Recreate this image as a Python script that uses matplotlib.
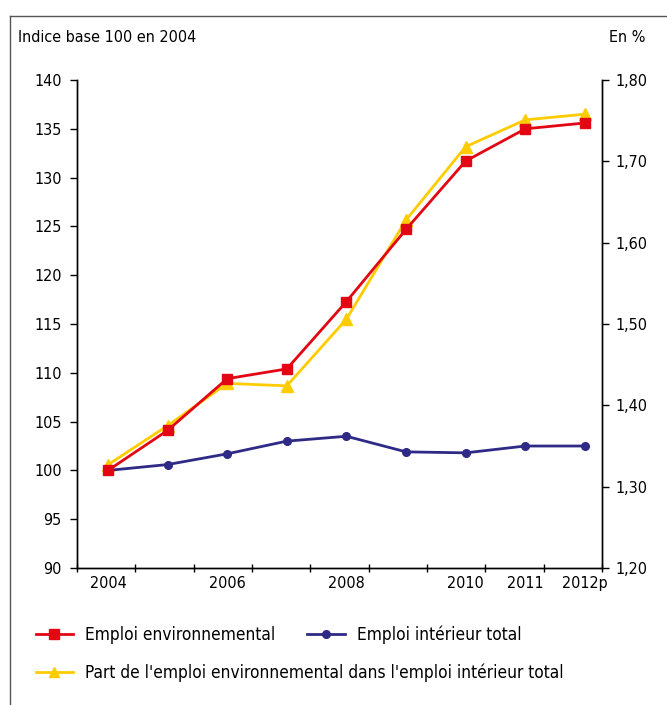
import numpy as np
import matplotlib.pyplot as plt
from matplotlib.lines import Line2D

plt.rcParams['font.family'] = ['DejaVu Sans']
plt.rcParams['font.stretch'] = 'condensed'
plt.rcParams['font.size'] = 11.5

years = ['2004', '2005', '2006', '2007', '2008', '2009', '2010', '2011', '2012p']
shown_labels = ['2004', '', '2006', '', '2008', '', '2010', '2011', '2012p']
emploi_env = [100.0, 104.1, 109.4, 110.4, 117.3, 124.7, 131.7, 135.0, 135.6]
emploi_total = [100.0, 100.6, 101.7, 103.0, 103.5, 101.9, 101.8, 102.5, 102.5]
part_env = [1.327, 1.375, 1.427, 1.424, 1.506, 1.628, 1.718, 1.751, 1.758]

red = '#e30613'
navy = '#2e2a86'
yellow = '#ffcc00'

fig = plt.figure(figsize=(6.67, 7.05), dpi=100)
ax = fig.add_axes([0.1154, 0.1943, 0.787, 0.6922])
ax2 = ax.twinx()

x = np.arange(len(years))
ax.plot(x, emploi_total, color=navy, lw=2, marker='o', ms=5.5, zorder=3)
ax.plot(x, emploi_env, color=red, lw=2, marker='s', ms=6.5, zorder=4)
ax2.plot(x, part_env, color=yellow, lw=2, marker='^', ms=8, zorder=3)
ax.set_zorder(ax2.get_zorder() + 1)
ax.patch.set_visible(False)

ax.set_xlim(-0.52, 8.285)
ax.set_ylim(90, 140)
ax2.set_ylim(1.20, 1.80)
ax.set_yticks(np.arange(90, 141, 5))
ax2.set_yticks(np.arange(1.2, 1.81, 0.1))
ax2.set_yticklabels([f'{v:.2f}'.replace('.', ',') for v in np.arange(1.2, 1.81, 0.1)])

# category labels under the points, tick marks at boundaries
ax.set_xticks(x)
ax.set_xticklabels(shown_labels)
ax.tick_params(axis='x', length=0, pad=6)
ax.set_xticks(np.linspace(-0.52, 8.285, 10), minor=True)
ax.tick_params(axis='x', which='minor', direction='inout', length=6, width=1)
ax.tick_params(axis='y', length=5, pad=6, width=1)
ax2.tick_params(axis='y', length=5, pad=5, width=1)

for a in (ax, ax2):
    a.spines['top'].set_visible(False)
    for s in a.spines.values():
        s.set_linewidth(1)
        s.set_color('black')

fig.text(18 / 667, 1 - 37 / 705, 'Indice base 100 en 2004', ha='left', va='center')
fig.text(645 / 667, 1 - 37 / 705, 'En %', ha='right', va='center')

# outer frame lines
fig.add_artist(Line2D([10 / 667, 10 / 667], [0, 1 - 16 / 705], color='#555555', lw=1))
fig.add_artist(Line2D([10 / 667, 1], [1 - 16 / 705, 1 - 16 / 705], color='#555555', lw=1))

h_env = Line2D([], [], color=red, lw=2, marker='s', ms=6.5)
h_tot = Line2D([], [], color=navy, lw=2, marker='o', ms=5.5)
h_part = Line2D([], [], color=yellow, lw=2, marker='^', ms=7)
leg1 = fig.legend([h_env, h_tot], ['Emploi environnemental', 'Emploi intérieur total'],
                  loc='center left', bbox_to_anchor=(20 / 667, 1 - 635 / 705), ncol=2,
                  frameon=False, handlelength=2.2, handletextpad=0.7, columnspacing=1.8,
                  fontsize=12.4)
leg2 = fig.legend([h_part], ["Part de l'emploi environnemental dans l'emploi intérieur total"],
                  loc='center left', bbox_to_anchor=(20 / 667, 1 - 673 / 705),
                  frameon=False, handlelength=2.2, handletextpad=0.7, fontsize=12.4)

fig.savefig('out.png', dpi=100)
